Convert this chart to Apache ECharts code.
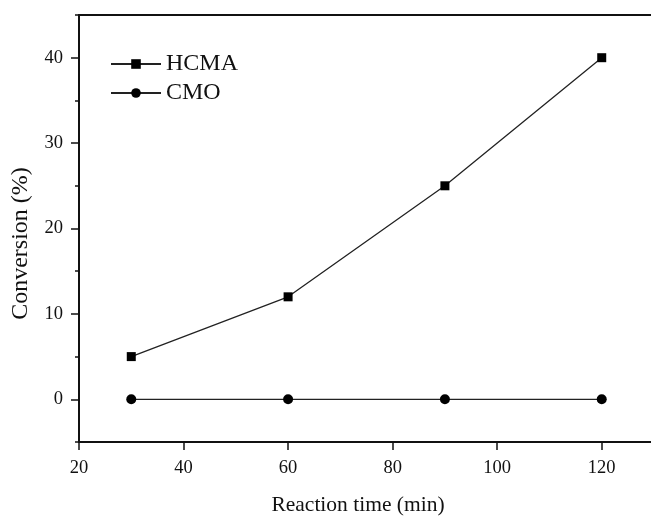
<!DOCTYPE html>
<html>
<head>
<meta charset="utf-8">
<script src="https://cdn.jsdelivr.net/npm/echarts@6/dist/echarts.min.js"></script>
<style>
html,body{margin:0;padding:0;background:#fff;}
#chart{width:651px;height:516px;}
</style>
</head>
<body>
<div id="chart"></div>
<script>
const times = [30, 60, 90, 120];
const hcma = [5, 12, 25, 40];
const cmo = [0, 0, 0, 0];
const xTicks = [20, 40, 60, 80, 100, 120];
const yTicks = [0, 10, 20, 30, 40];
const yMinorTicks = [-5, 5, 15, 25, 35, 45];

const font = '"Liberation Serif", "Times New Roman", serif';
const chart = echarts.init(document.getElementById('chart'));
chart.setOption({
  animation: false,
  backgroundColor: '#fff',
  textStyle: { fontFamily: font },
  grid: { left: 79, top: 15, width: 575, height: 427, containLabel: false, outerBoundsMode: 'none' },
  legend: {
    orient: 'vertical',
    left: 105, top: 47,
    itemWidth: 50, itemHeight: 12,
    itemGap: 5,
    textStyle: { fontFamily: font, fontSize: 24, color: '#111' },
    data: ['HCMA', 'CMO']
  },
  xAxis: [{
    type: 'value', min: 20, max: 130, interval: 20,
    name: 'Reaction time (min)', nameLocation: 'middle', nameGap: 52,
    nameTextStyle: { fontFamily: font, fontSize: 21.5, color: '#111', padding: [0, 17, 0, 0] },
    axisLine: { show: true, onZero: false, lineStyle: { color: '#111', width: 2 } },
    axisTick: { show: true, inside: false, length: 8, lineStyle: { color: '#111', width: 1.5 }, customValues: xTicks },
    axisLabel: { fontFamily: font, fontSize: 18.5, color: '#111', margin: 17, customValues: xTicks },
    splitLine: { show: false }
  }, {
    type: 'value', position: 'top', min: 20, max: 130,
    axisLine: { show: true, onZero: false, lineStyle: { color: '#111', width: 2 } },
    axisTick: { show: false }, axisLabel: { show: false }, splitLine: { show: false }
  }],
  yAxis: [{
    type: 'value', min: -5, max: 45,
    name: 'Conversion (%)', nameLocation: 'middle', nameGap: 46, nameRotate: 90,
    nameTextStyle: { fontFamily: font, fontSize: 24, color: '#111', padding: [0, 30, 0, 0] },
    axisLine: { show: true, onZero: false, lineStyle: { color: '#111', width: 2 } },
    axisTick: { show: true, inside: false, length: 8, lineStyle: { color: '#111', width: 1.5 }, customValues: yTicks },
    axisLabel: { fontFamily: font, fontSize: 18.5, color: '#111', margin: 16, customValues: yTicks },
    splitLine: { show: false }
  }, {
    type: 'value', min: -5, max: 45, position: 'left',
    axisLine: { show: false, onZero: false },
    axisTick: { show: true, inside: false, length: 4, lineStyle: { color: '#111', width: 1.5 }, customValues: yMinorTicks },
    axisLabel: { show: false }, splitLine: { show: false }
  }],
  series: [{
    name: 'HCMA', type: 'line',
    data: times.map((t, i) => [t, hcma[i]]),
    symbol: 'rect', symbolSize: 9,
    itemStyle: { color: '#000' },
    lineStyle: { color: '#222', width: 1.3 }
  }, {
    name: 'CMO', type: 'line',
    data: times.map((t, i) => [t, cmo[i]]),
    symbol: 'circle', symbolSize: 10,
    itemStyle: { color: '#000' },
    lineStyle: { color: '#222', width: 1.3 }
  }]
});
</script>
</body>
</html>
